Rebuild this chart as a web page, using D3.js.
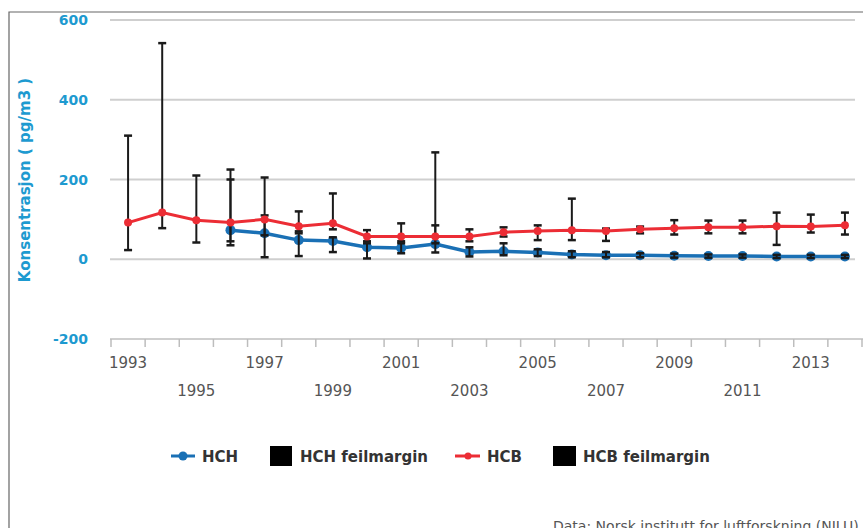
<!DOCTYPE html>
<html><head><meta charset="utf-8">
<script src="https://cdn.jsdelivr.net/npm/d3@7"></script>
<style>body{margin:0;background:#fff}svg{display:block}</style>
</head><body>
<svg id="c" width="863" height="528"></svg>
<script>
const years = ["1993","1994","1995","1996","1997","1998","1999","2000","2001","2002","2003","2004","2005","2006","2007","2008","2009","2010","2011","2012","2013","2014"];
const xLabels = ["1993","1995","1997","1999","2001","2003","2005","2007","2009","2011","2013"];
const yTicks = [600, 400, 200, 0, -200];
const hcb =    [92, 117, 98, 92, 100, 83, 90, 57, 57, 57, 57, 68, 71, 73, 71, 75, 78, 80, 80, 83, 82, 85];
const hcbLow = [23, 78, 42, 45, 60, 70, 75, 45, 45, 40, 45, 57, 48, 48, 46, 65, 62, 65, 65, 36, 67, 62];
const hcbHigh= [310, 542, 210, 225, 205, 120, 165, 73, 90, 268, 75, 80, 85, 152, 77, 82, 98, 97, 97, 117, 112, 117];
const hch =    [null, null, null, 73, 65, 48, 46, 30, 28, 38, 18, 20, 17, 12, 10, 10, 9, 8, 8, 7, 7, 7];
const hchLow = [null, null, null, 35, 5, 8, 18, 2, 15, 17, 7, 10, 8, 5, 5, 5, 4, 4, 4, 3, 3, 3];
const hchHigh= [null, null, null, 200, 110, 65, 55, 40, 40, 85, 30, 40, 25, 20, 18, 15, 14, 12, 12, 11, 11, 11];
const legendItems = ["HCH", "HCH feilmargin", "HCB", "HCB feilmargin"];

const svg = d3.select("#c");
const x = d3.scaleBand().domain(years).range([111, 862]).padding(0);
const y = d3.scaleLinear().domain([-200, 600]).range([339, 20]);
const cx = d => x(d) + x.bandwidth() / 2;

// frame
svg.append("path").attr("d", "M9,540 L9,12 L870,12").attr("fill", "none").attr("stroke", "#666").attr("stroke-width", 1.2);

// gridlines
svg.append("g").selectAll("line").data(yTicks.filter(v => v > -200)).join("line")
  .attr("x1", 110).attr("x2", 855).attr("y1", d => y(d)).attr("y2", d => y(d))
  .attr("stroke", "#cfcfcf").attr("stroke-width", 2);

// x axis line + ticks
svg.append("line").attr("x1", 110).attr("x2", 863).attr("y1", y(-200)).attr("y2", y(-200))
  .attr("stroke", "#cfcfcf").attr("stroke-width", 2);
svg.append("g").selectAll("line").data(years.map(d => x(d)).concat([x(years[years.length-1]) + x.bandwidth()])).join("line")
  .attr("x1", d => d).attr("x2", d => d).attr("y1", y(-200)).attr("y2", y(-200) + 8)
  .attr("stroke", "#bdbdbd").attr("stroke-width", 1.5);

// x labels
svg.append("g").selectAll("text").data(xLabels).join("text")
  .attr("x", d => cx(d)).attr("y", (d, i) => i % 2 === 0 ? 368 : 396)
  .attr("text-anchor", "middle").attr("font-family", "DejaVu Sans, sans-serif")
  .attr("font-size", 15).attr("fill", "#555").text(d => d);

// y labels
svg.append("g").selectAll("text").data(yTicks).join("text")
  .attr("x", 88).attr("y", d => y(d) + 5).attr("text-anchor", "end")
  .attr("font-family", "DejaVu Sans, sans-serif").attr("font-weight", "bold")
  .attr("font-size", 14).attr("fill", "#1d9ad0").text(d => d);

// y title
svg.append("text").attr("transform", "translate(30,180) rotate(-90)")
  .attr("text-anchor", "middle").attr("font-family", "DejaVu Sans, sans-serif")
  .attr("font-weight", "bold").attr("font-size", 15).attr("fill", "#1d9ad0")
  .text("Konsentrasjon ( pg/m3 )");

const blue = "#1a70b5", red = "#ec2d35";
const hchData = years.map((d, i) => ({ yr: d, v: hch[i], lo: hchLow[i], hi: hchHigh[i] })).filter(d => d.v !== null);
const hcbData = years.map((d, i) => ({ yr: d, v: hcb[i], lo: hcbLow[i], hi: hcbHigh[i] }));
const line = d3.line().x(d => cx(d.yr)).y(d => y(d.v));

// HCH line + markers
svg.append("path").datum(hchData).attr("d", line).attr("fill", "none").attr("stroke", blue).attr("stroke-width", 3.5);
svg.append("g").selectAll("circle").data(hchData).join("circle")
  .attr("cx", d => cx(d.yr)).attr("cy", d => y(d.v)).attr("r", 5).attr("fill", blue);

// error bars
function errBars(data) {
  const g = svg.append("g").attr("stroke", "#1a1a1a").attr("stroke-width", 2);
  data.forEach(d => {
    const X = cx(d.yr);
    g.append("line").attr("x1", X).attr("x2", X).attr("y1", y(d.hi)).attr("y2", y(d.lo));
    g.append("line").attr("x1", X - 4).attr("x2", X + 4).attr("y1", y(d.hi)).attr("y2", y(d.hi)).attr("stroke-width", 2.5);
    g.append("line").attr("x1", X - 4).attr("x2", X + 4).attr("y1", y(d.lo)).attr("y2", y(d.lo)).attr("stroke-width", 2.5);
  });
}
errBars(hchData);
errBars(hcbData);

// HCB line + markers
svg.append("path").datum(hcbData).attr("d", line).attr("fill", "none").attr("stroke", red).attr("stroke-width", 3);
svg.append("g").selectAll("circle").data(hcbData).join("circle")
  .attr("cx", d => cx(d.yr)).attr("cy", d => y(d.v)).attr("r", 4).attr("fill", red);

// legend
const lg = svg.append("g").attr("font-family", "DejaVu Sans, sans-serif").attr("font-size", 15)
  .attr("font-weight", "bold").attr("fill", "#333");
const ly = 456;
lg.append("line").attr("x1", 171).attr("x2", 195).attr("y1", ly).attr("y2", ly).attr("stroke", blue).attr("stroke-width", 3);
lg.append("circle").attr("cx", 183).attr("cy", ly).attr("r", 4.5).attr("fill", blue);
lg.append("text").attr("x", 202).attr("y", ly + 5.5).text(legendItems[0]);
lg.append("rect").attr("x", 270).attr("y", ly - 10).attr("width", 22).attr("height", 20).attr("fill", "#000");
lg.append("text").attr("x", 300).attr("y", ly + 5.5).text(legendItems[1]);
lg.append("line").attr("x1", 455).attr("x2", 480).attr("y1", ly).attr("y2", ly).attr("stroke", red).attr("stroke-width", 3);
lg.append("circle").attr("cx", 468).attr("cy", ly).attr("r", 3.5).attr("fill", red);
lg.append("text").attr("x", 487).attr("y", ly + 5.5).text(legendItems[2]);
lg.append("rect").attr("x", 553).attr("y", ly - 10).attr("width", 23).attr("height", 20).attr("fill", "#000");
lg.append("text").attr("x", 583).attr("y", ly + 5.5).text(legendItems[3]);

// footer
svg.append("text").attr("x", 553).attr("y", 531).attr("font-family", "DejaVu Sans, sans-serif")
  .attr("font-size", 14).attr("fill", "#555").text("Data: Norsk institutt for luftforskning (NILU)");
</script>
</body></html>
